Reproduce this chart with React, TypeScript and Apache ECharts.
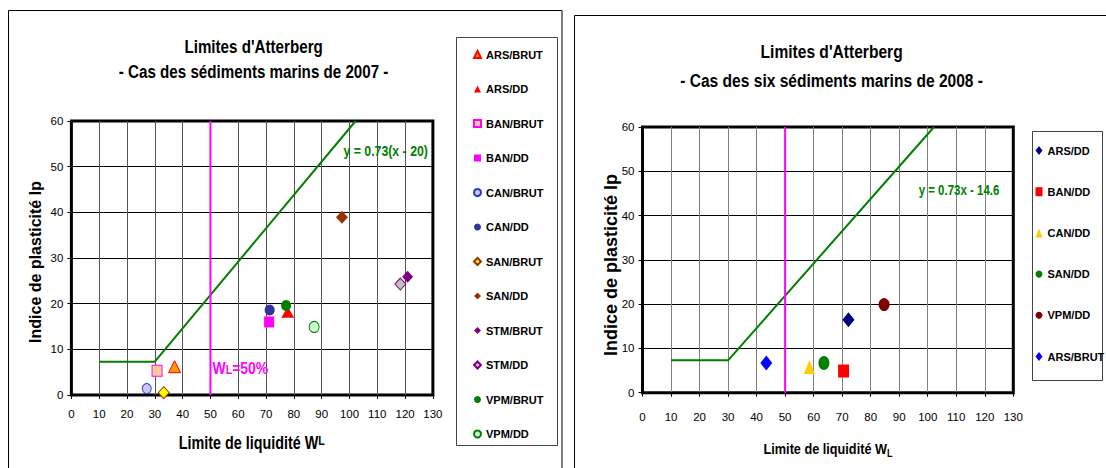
import React, { useEffect, useRef } from 'react';
import * as echarts from 'echarts';

const FONT = "'Liberation Sans', Arial, Helvetica, sans-serif";
const NARROW_SCALE = 0.82;

// ---- 2007 data ----
const names2007 = ['ARS/BRUT', 'ARS/DD', 'BAN/BRUT', 'BAN/DD', 'CAN/BRUT', 'CAN/DD', 'SAN/BRUT', 'SAN/DD', 'STM/BRUT', 'STM/DD', 'VPM/BRUT', 'VPM/DD'];
const wl2007 = [37.1, 77.8, 30.8, 71.1, 27.1, 71.3, 33.2, 97.3, 120.9, 118.3, 77.2, 87.3];
const ip2007 = [6.2, 18.1, 5.3, 16.0, 1.4, 18.6, 0.5, 38.9, 25.9, 24.3, 19.6, 14.9];

// ---- 2008 data ----
const names2008 = ['ARS/DD', 'BAN/DD', 'CAN/DD', 'SAN/DD', 'VPM/DD', 'ARS/BRUT'];
const wl2008 = [72.2, 70.5, 58.5, 63.6, 84.7, 43.4];
const ip2008 = [16.5, 4.9, 5.8, 6.7, 19.9, 6.7];

// ---- reference lines ----
const aLineWl = [10, 30, 102.2];
const aLineIp = [7.3, 7.3, 60];
const wlLimitWl = [50, 50];
const wlLimitIp = [0, 60];

// ---- axes ----
const xMin = 0, xMax = 130, xStep = 10;
const yMin = 0, yMax = 60, yStep = 10;

type Mk = { symbol: string; size: number[]; fill: string; stroke?: string };

const styles2007: Mk[] = [
  { symbol: 'triangle', size: [12, 12], fill: '#FF9900', stroke: '#FF0000' },
  { symbol: 'triangle', size: [13, 11], fill: '#FF0000' },
  { symbol: 'rect', size: [10, 11], fill: '#FFCC99', stroke: '#FF00FF' },
  { symbol: 'rect', size: [10, 11], fill: '#FF00FF' },
  { symbol: 'circle', size: [9, 10], fill: '#C8CCF4', stroke: '#3333CC' },
  { symbol: 'circle', size: [10, 11], fill: '#333399' },
  { symbol: 'diamond', size: [11, 12], fill: '#FFFF00', stroke: '#993300' },
  { symbol: 'diamond', size: [12, 13], fill: '#993300' },
  { symbol: 'diamond', size: [11, 12], fill: '#800080' },
  { symbol: 'diamond', size: [11, 12], fill: '#C0C0C0', stroke: '#800080' },
  { symbol: 'circle', size: [10, 11], fill: '#008000' },
  { symbol: 'circle', size: [10, 11], fill: '#CCFFCC', stroke: '#008000' },
];

const styles2008: Mk[] = [
  { symbol: 'diamond', size: [12, 15], fill: '#000080' },
  { symbol: 'rect', size: [11, 13], fill: '#FF0000' },
  { symbol: 'triangle', size: [11, 14], fill: '#FFCC00' },
  { symbol: 'circle', size: [11, 14], fill: '#008000' },
  { symbol: 'circle', size: [11, 13], fill: '#800000' },
  { symbol: 'diamond', size: [12, 15], fill: '#0000FF' },
];

function axis(min: number, max: number, step: number, splitColor: string, margin: number) {
  return {
    type: 'value',
    min,
    max,
    interval: step,
    axisLine: { show: true, onZero: false, lineStyle: { color: '#000', width: 1 } },
    axisTick: { show: true, length: 4, inside: false, lineStyle: { color: '#000', width: 1 } },
    axisLabel: { show: true, margin, color: '#000', fontSize: 11.5, fontFamily: FONT },
    splitLine: { show: true, showMinLine: false, showMaxLine: false, lineStyle: { color: splitColor, width: 1, type: 'solid' } },
  };
}

function scatterSeries(names: string[], wl: number[], ip: number[], st: Mk[]) {
  return names.map((n, i) => ({
    name: n,
    type: 'scatter',
    symbol: st[i].symbol,
    symbolSize: st[i].size,
    data: [[wl[i], ip[i]]],
    itemStyle: {
      color: st[i].fill,
      borderColor: st[i].stroke || st[i].fill,
      borderWidth: st[i].stroke ? 1 : 0,
      opacity: 1,
    },
    z: 5,
    silent: true,
  }));
}

function refLines() {
  return [
    {
      name: 'A-line',
      type: 'line',
      data: aLineWl.map((x, i) => [x, aLineIp[i]]),
      symbol: 'none',
      showSymbol: false,
      lineStyle: { color: '#008000', width: 2 },
      z: 3,
      silent: true,
    },
    {
      name: 'WL50',
      type: 'line',
      data: wlLimitWl.map((x, i) => [x, wlLimitIp[i]]),
      symbol: 'none',
      showSymbol: false,
      lineStyle: { color: '#FF00FF', width: 2 },
      z: 3,
      silent: true,
    },
  ];
}

// narrow-looking bold text (horizontally condensed like the original)
function txt(x: number, y: number, text: string, size: number, color = '#000', align = 'center', extra: any = {}, sx = NARROW_SCALE) {
  return {
    type: 'text',
    x,
    y,
    scaleX: sx,
    silent: true,
    z: 10,
    style: {
      text,
      fontSize: size,
      fontWeight: 'bold',
      fontFamily: FONT,
      fill: color,
      align,
      verticalAlign: 'middle',
      textAlign: align,
      textVerticalAlign: 'middle',
      ...extra,
    },
  };
}

function vtxt(x: number, y: number, text: string, size: number) {
  return {
    type: 'text',
    x,
    y,
    rotation: Math.PI / 2,
    silent: true,
    z: 10,
    style: {
      text,
      fontSize: size,
      fontWeight: 'bold',
      fontFamily: FONT,
      fill: '#000',
      align: 'center',
      verticalAlign: 'middle',
      textAlign: 'center',
      textVerticalAlign: 'middle',
    },
  };
}

function buildLeft() {
  return {
    animation: false,
    backgroundColor: '#fff',
    grid: {
      left: 71.4, top: 121, width: 361.5, height: 274,
      show: true, borderColor: '#000', borderWidth: 3, backgroundColor: '#fff',
      containLabel: false, outerBoundsMode: 'none',
    },
    xAxis: axis(xMin, xMax, xStep, '#555', 13),
    yAxis: axis(yMin, yMax, yStep, '#000', 8),
    legend: {
      orient: 'vertical', left: 473, top: 49, padding: 0,
      itemWidth: 7, itemHeight: 7, itemGap: 23.5, selectedMode: false,
      textStyle: { fontSize: 11, fontWeight: 'bold', fontFamily: FONT, color: '#000' },
      data: names2007,
    },
    series: [...refLines(), ...scatterSeries(names2007, wl2007, ip2007, styles2007)],
    graphic: [
      { type: 'rect', silent: true, z: -1, shape: { x: 8.5, y: 10.5, width: 553.5, height: 470 }, style: { fill: 'none', stroke: '#000', lineWidth: 1 } },
      { type: 'rect', silent: true, z: -1, shape: { x: 456.5, y: 37.5, width: 101, height: 408 }, style: { fill: 'none', stroke: '#444', lineWidth: 1 } },
      txt(253.6, 47, "Limites d'Atterberg", 18.5),
      txt(253.6, 72, '- Cas des sédiments marins de 2007 -', 18.5),
      vtxt(35.7, 262, 'Indice de plasticité Ip', 16),
      txt(251.8, 443, '{m|Limite de liquidité W}{s|L}', 17.5, '#000', 'center', {
        rich: {
          m: { fontSize: 17.5, fontWeight: 'bold', fontFamily: FONT, fill: '#000', lineHeight: 18, verticalAlign: 'top' },
          s: { fontSize: 13, fontWeight: 'bold', fontFamily: FONT, fill: '#000', lineHeight: 14, verticalAlign: 'top' },
        },
      }),
      txt(385.7, 151, 'y = 0.73(x - 20)', 15, '#008000'),
      txt(212.5, 367, '{m|W}{s|L}{m|=50%}', 17, '#FF00FF', 'left', {
        rich: {
          m: { fontSize: 17, fontWeight: 'bold', fontFamily: FONT, fill: '#FF00FF', lineHeight: 18, verticalAlign: 'bottom' },
          s: { fontSize: 13, fontWeight: 'bold', fontFamily: FONT, fill: '#FF00FF', lineHeight: 15, verticalAlign: 'bottom' },
        },
      }),
    ],
  };
}

function buildRight() {
  return {
    animation: false,
    backgroundColor: '#fff',
    grid: {
      left: 74.5, top: 127, width: 370.8, height: 265.7,
      show: true, borderColor: '#000', borderWidth: 3, backgroundColor: '#fff',
      containLabel: false, outerBoundsMode: 'none',
    },
    xAxis: axis(xMin, xMax, xStep, '#808080', 18),
    yAxis: axis(yMin, yMax, yStep, '#000', 8),
    legend: {
      orient: 'vertical', left: 467.5, top: 145, padding: 0,
      itemWidth: 7, itemHeight: 9, itemGap: 30.2, selectedMode: false,
      textStyle: { fontSize: 11, fontWeight: 'bold', fontFamily: FONT, color: '#000' },
      data: names2008,
    },
    series: [...refLines(), ...scatterSeries(names2008, wl2008, ip2008, styles2008)],
    graphic: [
      { type: 'rect', silent: true, z: -1, shape: { x: 6.5, y: 15.5, width: 560, height: 470 }, style: { fill: 'none', stroke: '#000', lineWidth: 1 } },
      { type: 'rect', silent: true, z: -1, shape: { x: 464.5, y: 131.5, width: 70, height: 249 }, style: { fill: 'none', stroke: '#444', lineWidth: 1 } },
      txt(263.6, 51.7, "Limites d'Atterberg", 19),
      txt(263.6, 80, '- Cas des six sédiments marins de 2008 -', 19),
      vtxt(42.5, 265, 'Indice de plasticité Ip', 18),
      txt(260, 450, '{m|Limite de liquidité W}{s|L}', 15.5, '#000', 'center', {
        rich: {
          m: { fontSize: 15.5, fontWeight: 'bold', fontFamily: FONT, fill: '#000', lineHeight: 18, verticalAlign: 'top' },
          s: { fontSize: 11, fontWeight: 'bold', fontFamily: FONT, fill: '#000', lineHeight: 11, verticalAlign: 'bottom' },
        },
      }),
      txt(391, 190, 'y = 0.73x - 14.6', 14, '#008000'),
    ],
  };
}

export default function App() {
  const leftRef = useRef<HTMLDivElement>(null);
  const rightRef = useRef<HTMLDivElement>(null);
  useEffect(() => {
    const l = echarts.init(leftRef.current as HTMLDivElement, undefined, { renderer: 'svg' });
    const r = echarts.init(rightRef.current as HTMLDivElement, undefined, { renderer: 'svg' });
    l.setOption(buildLeft() as any);
    r.setOption(buildRight() as any);
    return () => {
      l.dispose();
      r.dispose();
    };
  }, []);
  return (
    <div style={{ position: 'absolute', left: 0, top: 0, width: 1106, height: 468, background: '#fff', overflow: 'hidden' }}>
      <div ref={leftRef} style={{ position: 'absolute', left: 0, top: 0, width: 568, height: 468 }} />
      <div ref={rightRef} style={{ position: 'absolute', left: 568, top: 0, width: 538, height: 468 }} />
    </div>
  );
}
